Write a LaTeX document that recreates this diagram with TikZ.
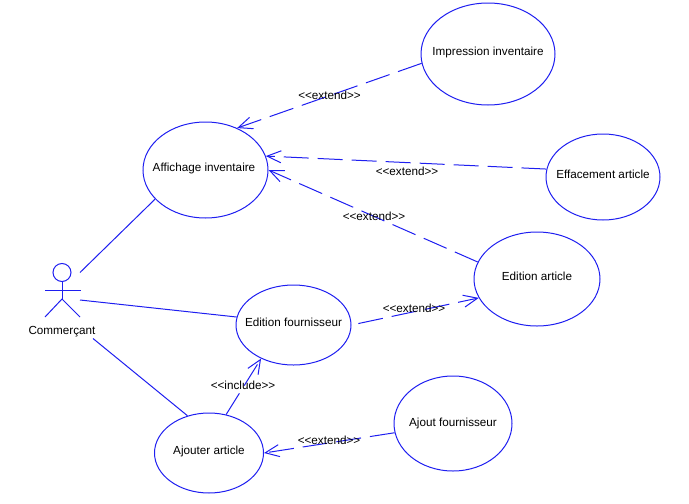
\documentclass[tikz,border=0pt]{standalone}
\usepackage{fontspec}
\setmainfont{Liberation Sans}
\usetikzlibrary{arrows.meta, shapes.geometric}
\definecolor{umlblue}{RGB}{30,30,240}
\newcommand{\stereo}[1]{<{}<#1>{}>}
\newcommand{\uctext}[1]{\smash{\makebox[0pt]{\raisebox{-1pt}{#1}}}}
\tikzset{
	usecase/.style={ellipse, draw=umlblue, line width=1pt, inner sep=0pt, font=\fontsize{11.7}{13}\selectfont},
	assoc/.style={draw=umlblue, line width=1pt},
	dep/.style={assoc, dash pattern=on 25pt off 9pt, -{Straight Barb[length=14pt,width=12pt,line width=1pt]}},
	stereotype/.style={inner sep=0pt, font=\fontsize{11.7}{13}\selectfont},
}

\begin{document}
\begin{tikzpicture}[x=1pt,y=-1pt]
			\useasboundingbox (0,0) rectangle (689,504);
			\node[usecase, minimum width=134pt, minimum height=102pt] (impression) at (488,54) {\uctext{Impression inventaire}};
			\node[usecase, minimum width=125pt, minimum height=96pt] (affichage) at (205.5,170) {\uctext{\hspace{-3pt}Affichage inventaire}};
			\node[usecase, minimum width=114pt, minimum height=86pt] (effacement) at (603,177) {\uctext{Effacement article}};
			\node[usecase, minimum width=126pt, minimum height=94pt] (editionart) at (537,279) {\uctext{Edition article}};
			\node[usecase, minimum width=115pt, minimum height=80pt] (editionfou) at (293.5,325) {\uctext{Edition fournisseur}};
			\node[usecase, minimum width=109pt, minimum height=80pt] (ajouter) at (209,453) {\uctext{Ajouter article}};
			\node[usecase, minimum width=118pt, minimum height=95pt] (ajoutfou) at (453,423.5) {\uctext{\raisebox{-2pt}{Ajout fournisseur}}};
			% actor
			\node[circle, assoc, draw, minimum size=18pt, inner sep=0pt] (head) at (62,272.5) {};
			\coordinate (hip) at (62,299);
			\coordinate (armL) at (45,290);
			\coordinate (armR) at (81,290);
			\coordinate (footL) at (45,317);
			\coordinate (footR) at (80,317);
			\draw[assoc] (head) -- (hip);
			\draw[assoc] (armL) -- (armR);
			\draw[assoc] (footL) -- (hip) -- (footR);
			\node[stereotype] (actor) at (62,331.5) {Commerçant};
			% associations
			\coordinate (actorA) at (80,272.5);
			\coordinate (actorB) at (80,300);
			\coordinate (actorC) at (93,338.5);
			\draw[assoc] (actorA) -- (affichage.210);
			\draw[assoc] (actorB) -- (editionfou.172);
			\draw[assoc] (actorC) -- (ajouter.120);
			% dependencies
			\draw[dep] (impression.188) -- (affichage.53);
			\draw[dep] (effacement.172) -- (affichage.13);
			\draw[dep] (editionart.164) -- (affichage.0);
			\draw[dep, shorten <=7pt] (editionfou.0) -- (editionart.198);
			\draw[dep] (ajouter.66) -- (editionfou.226);
			\draw[dep] (ajoutfou.189) -- (ajouter.0);
			% labels
			\node[stereotype] (extendA) at (329.5,95) {\stereo{extend}};
			\node[stereotype] (extendB) at (407,171) {\stereo{extend}};
			\node[stereotype] (extendC) at (374,216) {\stereo{extend}};
			\node[stereotype] (extendD) at (414,308) {\stereo{extend}};
			\node[stereotype] (extendE) at (329,440) {\stereo{extend}};
			\node[stereotype] (includeA) at (243,385) {\stereo{include}};
		\end{tikzpicture}
\end{document}
